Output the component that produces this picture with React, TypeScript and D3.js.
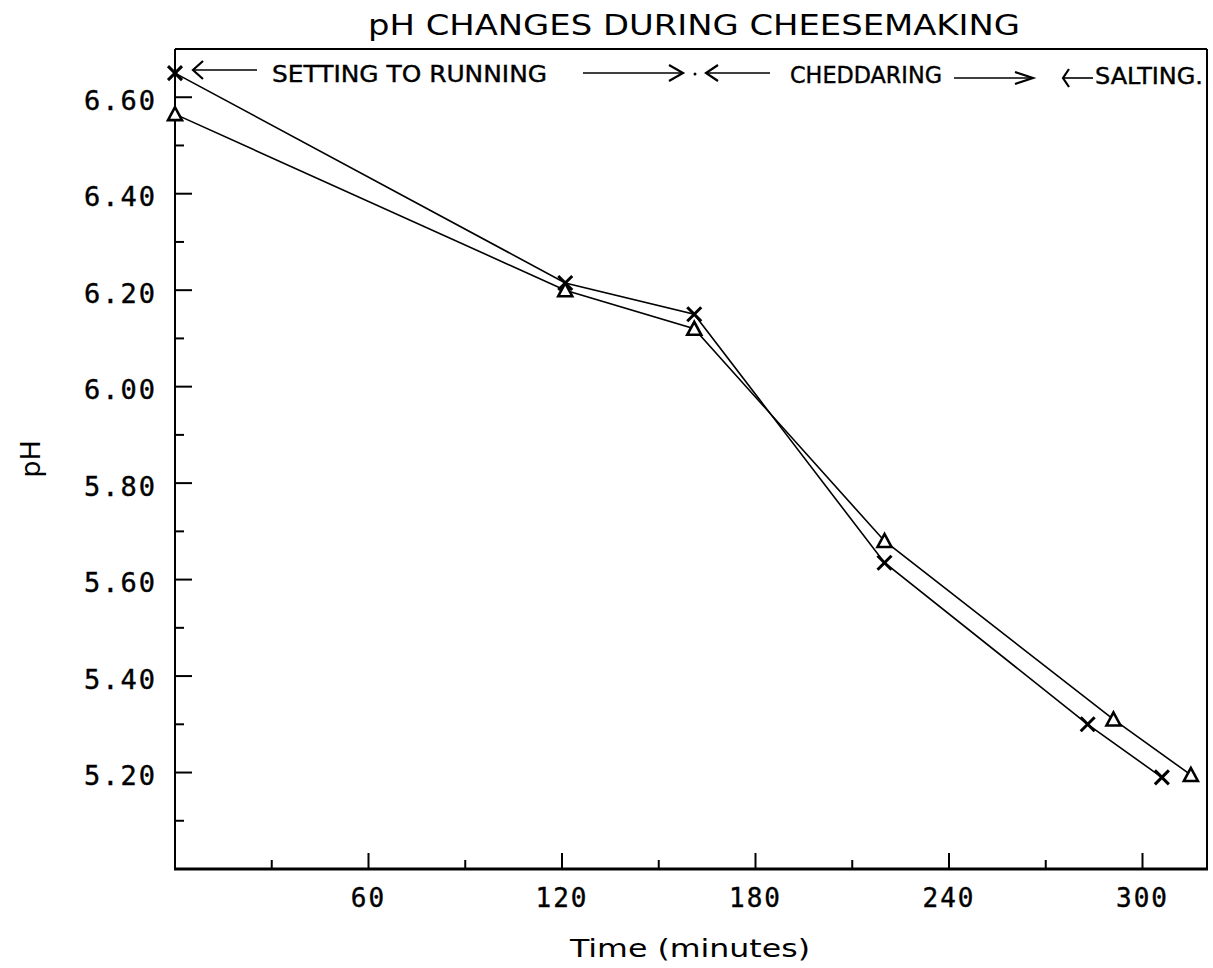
import React from "react";
import * as d3 from "d3";

const titleText = "pH CHANGES DURING CHEESEMAKING";
const xLabelText = "Time (minutes)";
const yLabelText = "pH";

const xMajorTicks = [60, 120, 180, 240, 300];
const xMinorTicks = [30, 90, 150, 210, 270];
const yMajorTicks = [5.2, 5.4, 5.6, 5.8, 6.0, 6.2, 6.4, 6.6];
const yMinorTicks = [5.1, 5.3, 5.5, 5.7, 5.9, 6.1, 6.3, 6.5];

// series marked with crosses
const crossTimes = [0, 121, 161, 220, 283, 306];
const crossPH = [6.65, 6.215, 6.15, 5.635, 5.3, 5.19];
// series marked with triangles
const triTimes = [0, 121, 161, 220, 291, 315];
const triPH = [6.565, 6.2, 6.12, 5.68, 5.31, 5.195];

const stageLabels = ["SETTING TO RUNNING", "CHEDDARING", "SALTING."];

const W = 1213;
const H = 968;
const L = 175;
const R = 1207;
const T = 49;
const B = 869;

const mono = "'DejaVu Sans Mono', 'Liberation Mono', monospace";
const sans = "'DejaVu Sans', 'Liberation Sans', sans-serif";

export default function App() {
  const x = d3.scaleLinear().domain([0, 320]).range([L, R]);
  const y = d3.scaleLinear().domain([5.0, 6.7]).range([B, T]);
  const line = d3
    .line<[number, number]>()
    .x((d) => x(d[0]))
    .y((d) => y(d[1]));
  const crossData: [number, number][] = crossTimes.map((t, i) => [t, crossPH[i]]);
  const triData: [number, number][] = triTimes.map((t, i) => [t, triPH[i]]);
  const fmt = d3.format(".2f");

  const arrowL = (x1: number, x2: number, yy: number, hw = 10, hh = 8) => (
    <g>
      <line x1={x1} y1={yy} x2={x2} y2={yy} stroke="#000" strokeWidth={1.6} />
      <polyline
        points={`${x1 + hw},${yy - hh} ${x1},${yy} ${x1 + hw},${yy + hh}`}
        fill="none"
        stroke="#000"
        strokeWidth={2.2}
      />
    </g>
  );
  const arrowR = (x1: number, x2: number, yy: number, hw = 10, hh = 8) => (
    <g>
      <line x1={x1} y1={yy} x2={x2} y2={yy} stroke="#000" strokeWidth={1.6} />
      <polyline
        points={`${x2 - hw},${yy - hh} ${x2},${yy} ${x2 - hw},${yy + hh}`}
        fill="none"
        stroke="#000"
        strokeWidth={2.2}
      />
    </g>
  );

  return (
    <svg
      width={W}
      height={H}
      style={{ position: "absolute", left: 0, top: 0, background: "#fff" }}
    >
      <rect x={0} y={0} width={W} height={H} fill="#fff" />
      {/* title */}
      <text
        x={368}
        y={35}
        fontFamily={sans}
        fontSize={29}
        textLength={652}
        lengthAdjust="spacingAndGlyphs"
        fill="#000"
      >
        {titleText}
      </text>

      {/* frame */}
      <line x1={L} y1={T} x2={R} y2={T} stroke="#000" strokeWidth={2} />
      <line x1={R} y1={T} x2={R} y2={B} stroke="#000" strokeWidth={2} />
      <line x1={L} y1={T} x2={L} y2={B} stroke="#000" strokeWidth={2} />
      <line x1={L - 1} y1={B} x2={R + 1} y2={B} stroke="#000" strokeWidth={3} />

      {/* y ticks */}
      {yMajorTicks.map((v) => (
        <g key={"ym" + v}>
          <line x1={L} y1={y(v)} x2={L + 17} y2={y(v)} stroke="#000" strokeWidth={2} />
          <text
            x={157}
            y={y(v) + 3}
            textAnchor="end"
            dominantBaseline="central"
            fontFamily={mono}
            fontSize={27}
            letterSpacing={2}
            stroke="#000"
            strokeWidth={0.4}
            fill="#000"
          >
            {fmt(v)}
          </text>
        </g>
      ))}
      {yMinorTicks.map((v) => (
        <line key={"yn" + v} x1={L} y1={y(v)} x2={L + 9} y2={y(v)} stroke="#000" strokeWidth={2} />
      ))}

      {/* x ticks */}
      {xMajorTicks.map((v) => (
        <g key={"xm" + v}>
          <line x1={x(v)} y1={B} x2={x(v)} y2={B - 16} stroke="#000" strokeWidth={2} />
          <text
            x={x(v)}
            y={898}
            textAnchor="middle"
            dominantBaseline="central"
            fontFamily={mono}
            fontSize={26}
            letterSpacing={2}
            stroke="#000"
            strokeWidth={0.4}
            fill="#000"
          >
            {String(v)}
          </text>
        </g>
      ))}
      {xMinorTicks.map((v) => (
        <line key={"xn" + v} x1={x(v)} y1={B} x2={x(v)} y2={B - 9} stroke="#000" strokeWidth={2} />
      ))}

      {/* axis labels */}
      <text
        x={690}
        y={948}
        textAnchor="middle"
        dominantBaseline="central"
        fontFamily={sans}
        fontSize={25}
        textLength={240}
        lengthAdjust="spacingAndGlyphs"
        fill="#000"
      >
        {xLabelText}
      </text>
      <text
        transform={`translate(30,459) rotate(-90)`}
        textAnchor="middle"
        dominantBaseline="central"
        fontFamily={sans}
        fontSize={27}
        fill="#000"
      >
        {yLabelText}
      </text>

      {/* stage annotations */}
      {arrowL(193, 257, 70, 10, 9)}
      <text x={272} y={82} fontFamily={sans} fontSize={23} textLength={275} lengthAdjust="spacingAndGlyphs" stroke="#000" strokeWidth={0.4} fill="#000">
        {stageLabels[0]}
      </text>
      {arrowR(583, 683, 73, 14, 8)}
      <circle cx={695} cy={74} r={1.5} fill="#000" />
      {arrowL(706, 770, 73, 12, 8)}
      <text x={790} y={83} fontFamily={sans} fontSize={23} textLength={152} lengthAdjust="spacingAndGlyphs" stroke="#000" strokeWidth={0.4} fill="#000">
        {stageLabels[1]}
      </text>
      {arrowR(954, 1033, 78, 18, 6)}
      {arrowL(1063, 1093, 78, 6, 9)}
      <text x={1095} y={84} fontFamily={sans} fontSize={23} textLength={108} lengthAdjust="spacingAndGlyphs" stroke="#000" strokeWidth={0.4} fill="#000">
        {stageLabels[2]}
      </text>

      {/* series lines */}
      <path d={line(crossData) || ""} fill="none" stroke="#000" strokeWidth={1.6} />
      <path d={line(triData) || ""} fill="none" stroke="#000" strokeWidth={1.6} />

      {/* markers */}
      {crossData.map((d, i) => (
        <g key={"c" + i} transform={`translate(${x(d[0])},${y(d[1])})`}>
          <line x1={-7} y1={-7} x2={7} y2={7} stroke="#000" strokeWidth={3} />
          <line x1={-7} y1={7} x2={7} y2={-7} stroke="#000" strokeWidth={3} />
        </g>
      ))}
      {triData.map((d, i) => (
        <g key={"t" + i} transform={`translate(${x(d[0])},${y(d[1])})`}>
          <path d="M0,-7 L-7,6 L7,6 Z" fill="#fff" stroke="#000" strokeWidth={2.6} strokeLinejoin="miter" />
        </g>
      ))}
    </svg>
  );
}
